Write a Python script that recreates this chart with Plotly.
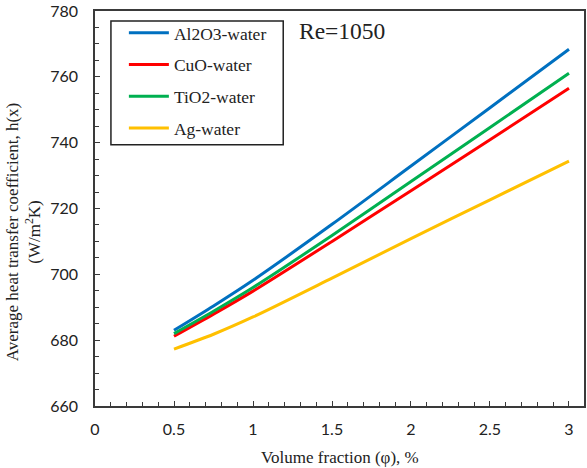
import plotly.graph_objects as go

x_vals = [0.5, 0.75, 1.0, 1.5, 2.0, 2.5, 3.0]
al2o3 = [683.0, 690.4, 698.2, 715.2, 732.9, 750.6, 768.4]
cuo = [681.2, 687.9, 694.9, 710.0, 725.4, 740.9, 756.5]
tio2 = [682.0, 688.8, 696.0, 711.8, 728.2, 744.6, 761.1]
ag = [677.3, 681.8, 687.05, 698.85, 710.85, 722.65, 734.4]

names = ["Al2O3-water", "CuO-water", "TiO2-water", "Ag-water"]
series = [al2o3, cuo, tio2, ag]
colors = ["#0070C0", "#FF0000", "#00B050", "#FFC000"]

fig = go.Figure()
for n, s, c in zip(names, series, colors):
    fig.add_trace(go.Scatter(x=x_vals, y=s, mode="lines", name=n, legendgroup=n,
                             line=dict(color=c, width=3, shape="spline", smoothing=0.8)))

axis_common = dict(showline=True, linecolor="#3a3a3a", linewidth=1.5, mirror=True,
                   ticks="inside", tickcolor="#3a3a3a", ticklen=5, tickwidth=1,
                   showgrid=False, zeroline=False, ticklabeloverflow="allow",
                   tickfont=dict(family="Lato", size=16, color="#222"))

L, R, T, B, W, H = 95, 1, 10, 62, 587, 468
pw, ph = W - L - R, H - T - B

def px(xp):
    return (xp - L) / pw

def py(yp):
    return (H - B - yp) / ph

fig.update_layout(
    width=W, height=H,
    margin=dict(l=L, r=R, t=T, b=B),
    paper_bgcolor="white", plot_bgcolor="white",
    xaxis=dict(range=[0, 3.095], dtick=0.5, tick0=0,
               minor=dict(dtick=0.1, ticks="inside", ticklen=4, tickcolor="#3a3a3a"),
               ticklabelstandoff=8, **axis_common),
    yaxis=dict(range=[660, 780], dtick=20, tick0=660,
               minor=dict(dtick=5, ticks="inside", ticklen=4, tickcolor="#3a3a3a"),
               ticklabelstandoff=12, **axis_common),
    legend=dict(x=px(124), y=py(14), xanchor="left", yanchor="top",
                borderwidth=0, bgcolor="rgba(0,0,0,0)",
                font=dict(family="Liberation Serif", size=17.5, color="#222"),
                tracegroupgap=6, itemwidth=40),
    showlegend=True,
    shapes=[dict(type="rect", xref="paper", yref="paper",
                 x0=px(111), x1=px(284), y0=py(144), y1=py(20),
                 line=dict(color="#222", width=1.5), fillcolor="white", layer="below")],
    annotations=[
        dict(text="Re=1050", xref="paper", yref="paper", x=px(298), y=py(30),
             xanchor="left", yanchor="middle", showarrow=False,
             font=dict(family="Liberation Serif", size=23.5, color="#222")),
        dict(text="Volume fraction (φ), %", xref="paper", yref="paper",
             x=0.5, y=py(458), xanchor="center", yanchor="middle", showarrow=False,
             font=dict(family="Liberation Serif", size=17, color="#222")),
        dict(text="Average heat transfer coefficient, h(x)<br>(W/m<sup>2</sup>K)",
             xref="paper", yref="paper", x=px(23.5), y=py(232),
             xanchor="center", yanchor="middle", textangle=-90, showarrow=False,
             font=dict(family="Liberation Serif", size=17, color="#222")),
    ],
)

fig.write_html("out.html")
